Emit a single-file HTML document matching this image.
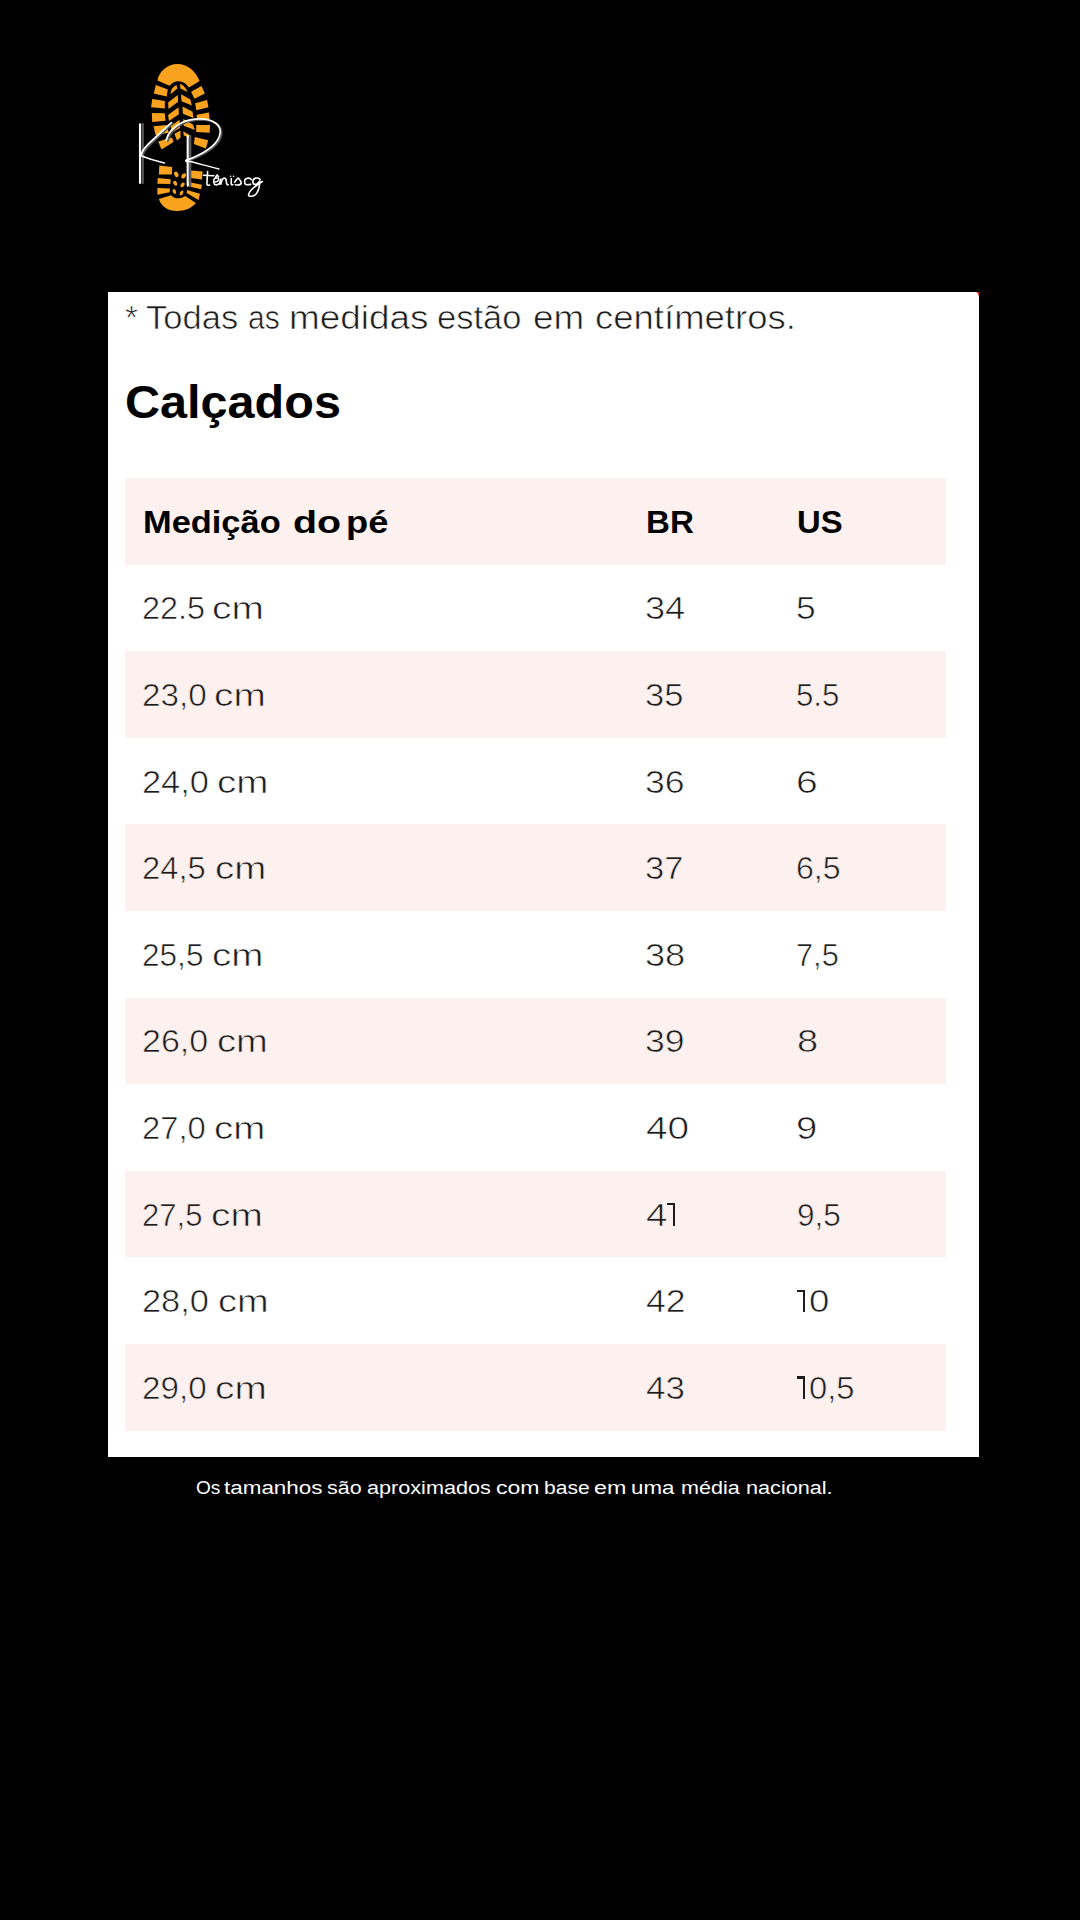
<!DOCTYPE html>
<html>
<head>
<meta charset="utf-8">
<style>
html,body{margin:0;padding:0}
body{width:1080px;height:1920px;background:#000;position:relative;overflow:hidden;font-family:"Liberation Sans",sans-serif}
.t{position:absolute;white-space:nowrap;line-height:1;transform-origin:0 0}
#card{position:absolute;left:108px;top:292px;width:871px;height:1165px;background:#fff;border-top-right-radius:3.5px 6px}
.p{position:absolute;left:125px;width:821px;background:#fcf1ee}
</style>
</head>
<body>
<svg style="position:absolute;left:130px;top:55px" width="140" height="165" viewBox="130 55 140 165">
<g fill="#f9a21d">
<path d="M157.4,80.5 C159,71 168,64 177.5,64 C187,64 196,71 199.6,81 L189,87.6 C186.5,83.5 183,81.2 178.5,81.2 C174,81.2 171.5,83.5 169.6,85.8 Z"/>
<polygon points="155.9,85 167.8,89.5 166.7,96.5 153.7,93.6"/>
<polygon points="152.2,99.1 164.8,101 164.8,108.4 151.1,107.3"/>
<polygon points="151.8,112.9 164.7,113.3 165.6,120.7 152.2,122.1"/>
<polygon points="153.6,126.3 166.6,124.9 168.9,132.8 155.5,135.1"/>
<polygon points="158.2,141.6 172.1,137.4 173.5,142 161.5,149.4"/>
<polygon points="159.3,165.6 172.2,167 171.9,174.4 158.9,174.4"/>
<polygon points="157.8,178.1 170.7,179.3 170.4,184.1 157.4,183.7"/>
<polygon points="157.4,188.1 170,188.5 169.6,192.2 157.4,194.8"/>
<polygon points="191.1,91.7 201.5,86.1 204.8,93.6 194.4,98.7"/>
<polygon points="195.2,103.2 207,99.9 208.5,107.3 196.3,110.2"/>
<polygon points="196.7,114.7 208.9,112.6 209.6,119.2 197.1,120.9"/>
<polygon points="196.2,124.9 210.1,124.9 209.6,132.8 196.2,131.9"/>
<polygon points="194.8,137 208.2,140.2 205.9,148.5 193.9,143.9"/>
<polygon points="191.1,170.4 202.6,171.5 201.9,179.6 190.4,178.1"/>
<polygon points="188.5,181.9 201.9,184.8 201.1,189.3 188.1,186.3"/>
<polygon points="187,190 200,193.7 198.5,200 186.7,193"/>
<path d="M158.9,198.9 L171.1,195.2 C173.5,197.5 175.5,198.3 177.8,198.3 C180.5,198.3 183,197.3 185.2,195.9 L195.9,203 C192,208 185,211 177,211 C168,211 161,206 158.9,198.9 Z"/>
<path d="M170.6,94.3 C170.5,90 173,86.5 176.5,85 L177.3,88.5 Z"/>
<polygon points="168.1,102.4 177.8,95 178.1,101.7 168.5,109.1"/>
<polygon points="168.1,115 178.5,107.3 178.9,114.3 168.9,121"/>
<polygon points="170.7,126.3 179.5,119.8 180,128.1 171.7,132.8"/>
<polygon points="174.4,133.7 180.5,130.5 180.5,137.4 177,140.6"/>
<path d="M180,83.9 C183,84.5 186,88 187.6,92.1 L180.4,88.4 Z"/>
<polygon points="181.1,94.3 190.4,99.5 191.9,105.4 181.5,101.3"/>
<polygon points="182.5,106.5 192.5,111.8 193.5,118.1 182.9,113.7"/>
<polygon points="183.2,118.9 193,124.4 194.8,130 183.7,125.8"/>
<polygon points="183.3,131.3 190.8,135.9 190.4,138 183.7,135.6"/>
<ellipse cx="176.3" cy="174.4" rx="2" ry="3" transform="rotate(-25 176.3 174.4)"/>
<ellipse cx="175.2" cy="183.3" rx="1.8" ry="2.6" transform="rotate(-35 175.2 183.3)"/>
<ellipse cx="174.4" cy="191.5" rx="1.6" ry="2.6" transform="rotate(-25 174.4 191.5)"/>
<ellipse cx="183.7" cy="175.9" rx="2" ry="2.8" transform="rotate(35 183.7 175.9)"/>
<ellipse cx="182.6" cy="184.8" rx="1.8" ry="2.6" transform="rotate(40 182.6 184.8)"/>
<ellipse cx="181.5" cy="193" rx="1.6" ry="2.6" transform="rotate(30 181.5 193)"/>
</g>
<g fill="none" stroke-linecap="round">
<g stroke="#5a5a5a" stroke-width="2.3">
<path d="M142.7,124.2 L142.7,183"/>
<path d="M190.2,136 L190.2,186"/>
</g>
<g stroke="#5a5a5a" stroke-width="1.7" transform="translate(1.6,0.9)">
<path d="M141.2,154.5 C142.5,150 146,146 151,141.5 L171.4,122.6"/>
<path d="M166.1,140.4 C168,133 173,127 182,122.5 C192,118 208,117 216.1,123.5 C221,127.5 221.5,134 217,141 C211,150 197,156 186,160.6"/>
</g>
<g stroke="#ffffff" stroke-width="2.1">
<path d="M140,124.3 L140,183"/>
<path d="M187.7,135.8 L187.7,185.8"/>
</g>
<g stroke="#ffffff" stroke-width="1.8">
<path d="M141.2,154.5 C142.5,150 146,146 151,141.5 L171.4,122.6"/>
<path d="M166.1,140.4 C168,133 173,127 182,122.5 C192,118 208,117 216.1,123.5 C221,127.5 221.5,134 217,141 C211,150 197,156 186,160.6"/>
</g>
<g stroke="#ffffff" stroke-width="1.5">
<path d="M141,155.7 C148,158.5 156,161 164.4,163.1"/>
<path d="M186,160.6 C196,163 207,166 218.9,168.9"/>
</g>
<g fill="#fff"><circle cx="186.8" cy="160.8" r="1.6"/></g>
<g stroke="#ffffff" stroke-width="1.6">
<path d="M207.6,171.5 C207.4,176 207,181 206.9,184.3 C207.2,185.4 208.3,185.5 209.6,185"/>
<path d="M203.5,175.2 L213.9,175.8"/>
<path d="M213.6,182.2 C215.5,182 218.8,181 218.7,179.6 C218.5,177.8 215.8,177.3 214.4,178.8 C213.2,180.3 213.3,184.5 215.7,184.8 C217,185 218.3,184.5 219.4,183.6"/>
<path d="M215.8,176.8 L217.2,175.1 L218.6,176.8"/>
<path d="M219.4,183.6 C220.2,181.5 220.6,179.5 220.6,178.5 L220.6,184.8 C221.5,181 222.5,178.3 224,178.1 C225.8,178 226.2,179.5 226.3,181 C226.4,183 226.2,184.8 228.3,184.8"/>
<path d="M231.3,178.5 L231.2,184.2 C231.3,184.9 232,185 232.8,184.6"/>
<path d="M234.6,182.4 C235.8,180.5 237,178.6 238.3,178.1 C239.5,179.5 241.5,181 241.2,183 C240.8,185 238.5,185.3 235.4,184.8"/>
<path d="M251.3,179.6 C250.5,178.3 249.4,178 248.3,178.1 C246.2,178.3 244.6,179.8 244.6,181.5 C244.6,183.5 245.3,184.8 247,184.8 C248.5,184.8 249.8,184.6 250.6,184.4"/>
<path d="M260.2,179.3 C258.8,178.2 257,178 255.7,178.1 C253.8,178.5 252.8,180 252.8,181.5 C252.8,183.3 253.8,184.4 255,184.4 C257,184.4 258.6,183 259.8,180.5 C259.8,183 259.5,186 258.7,188.9 C257.5,192.5 255,195.6 252.8,196 C250,196.5 248.3,196.5 248.5,194.8 C249,191.5 255,186 262.4,181.5"/>
</g>
<g fill="#fff"><circle cx="230.6" cy="176.3" r="0.8"/><circle cx="233.5" cy="176.3" r="0.8"/></g>
</g>
</svg>
<div style="position:absolute;left:974px;top:292px;width:5px;height:7px;background:#f21"></div>
<div id="card"></div>
<div class="p" style="top:478.0px;height:86.6px"></div>
<div class="p" style="top:651.2px;height:86.6px"></div>
<div class="p" style="top:824.4px;height:86.6px"></div>
<div class="p" style="top:997.6px;height:86.6px"></div>
<div class="p" style="top:1170.8px;height:86.6px"></div>
<div class="p" style="top:1344.0px;height:86.6px"></div>
<div class="t" style="left:124.59px;top:301.37px;font-size:33px;font-weight:normal;color:#1c1c1c;transform:scaleX(1.0091);-webkit-text-stroke:0.6px #fff">*</div>
<div class="t" style="left:145.65px;top:301.37px;font-size:33px;font-weight:normal;color:#1c1c1c;transform:scaleX(1.0465);-webkit-text-stroke:0.6px #fff">Todas</div>
<div class="t" style="left:247.99px;top:301.37px;font-size:33px;font-weight:normal;color:#1c1c1c;transform:scaleX(0.9091);-webkit-text-stroke:0.6px #fff">as</div>
<div class="t" style="left:289.07px;top:301.37px;font-size:33px;font-weight:normal;color:#1c1c1c;transform:scaleX(1.1172);-webkit-text-stroke:0.6px #fff">medidas</div>
<div class="t" style="left:437.46px;top:301.37px;font-size:33px;font-weight:normal;color:#1c1c1c;transform:scaleX(1.0449);-webkit-text-stroke:0.6px #fff">estão</div>
<div class="t" style="left:533.08px;top:301.37px;font-size:33px;font-weight:normal;color:#1c1c1c;transform:scaleX(1.1163);-webkit-text-stroke:0.6px #fff">em</div>
<div class="t" style="left:594.99px;top:301.37px;font-size:33px;font-weight:normal;color:#1c1c1c;transform:scaleX(1.1062);-webkit-text-stroke:0.6px #fff">centímetros.</div>
<div class="t" style="left:125.09px;top:379.36px;font-size:46px;font-weight:bold;color:#000;transform:scaleX(1.0557)">Calçados</div>
<div class="t" style="left:142.88px;top:506.66px;font-size:31px;font-weight:bold;color:#000;transform:scaleX(1.1099)">Medição</div>
<div class="t" style="left:292.63px;top:506.66px;font-size:31px;font-weight:bold;color:#000;transform:scaleX(1.2694)">do</div>
<div class="t" style="left:345.66px;top:506.66px;font-size:31px;font-weight:bold;color:#000;transform:scaleX(1.1697)">pé</div>
<div class="t" style="left:645.66px;top:506.66px;font-size:31px;font-weight:bold;color:#000;transform:scaleX(1.0690)">BR</div>
<div class="t" style="left:797.18px;top:506.66px;font-size:31px;font-weight:bold;color:#000;transform:scaleX(1.0575)">US</div>
<div class="t" style="left:142.18px;top:592.41px;font-size:32px;font-weight:normal;color:#1c1c1c;transform:scaleX(1.0119);-webkit-text-stroke:0.6px #fff">22.5</div>
<div class="t" style="left:212.28px;top:592.41px;font-size:32px;font-weight:normal;color:#1c1c1c;transform:scaleX(1.2150);-webkit-text-stroke:0.6px #fff">cm</div>
<div class="t" style="left:644.87px;top:592.41px;font-size:32px;font-weight:normal;color:#1c1c1c;transform:scaleX(1.1294);-webkit-text-stroke:0.6px #fff">34</div>
<div class="t" style="left:795.59px;top:592.41px;font-size:32px;font-weight:normal;color:#1c1c1c;transform:scaleX(1.1067);-webkit-text-stroke:0.6px #fff">5</div>
<div class="t" style="left:142.13px;top:679.01px;font-size:32px;font-weight:normal;color:#1c1c1c;transform:scaleX(1.0373);-webkit-text-stroke:0.6px #fcf1ee">23,0</div>
<div class="t" style="left:214.49px;top:679.01px;font-size:32px;font-weight:normal;color:#1c1c1c;transform:scaleX(1.2125);-webkit-text-stroke:0.6px #fcf1ee">cm</div>
<div class="t" style="left:645.02px;top:679.01px;font-size:32px;font-weight:normal;color:#1c1c1c;transform:scaleX(1.0788);-webkit-text-stroke:0.6px #fcf1ee">35</div>
<div class="t" style="left:796.35px;top:679.01px;font-size:32px;font-weight:normal;color:#1c1c1c;transform:scaleX(0.9756);-webkit-text-stroke:0.6px #fcf1ee">5.5</div>
<div class="t" style="left:142.05px;top:765.61px;font-size:32px;font-weight:normal;color:#1c1c1c;transform:scaleX(1.0746);-webkit-text-stroke:0.6px #fff">24,0</div>
<div class="t" style="left:217.49px;top:765.61px;font-size:32px;font-weight:normal;color:#1c1c1c;transform:scaleX(1.2050);-webkit-text-stroke:0.6px #fff">cm</div>
<div class="t" style="left:644.99px;top:765.61px;font-size:32px;font-weight:normal;color:#1c1c1c;transform:scaleX(1.1121);-webkit-text-stroke:0.6px #fff">36</div>
<div class="t" style="left:795.86px;top:765.61px;font-size:32px;font-weight:normal;color:#1c1c1c;transform:scaleX(1.2214);-webkit-text-stroke:0.6px #fff">6</div>
<div class="t" style="left:142.15px;top:852.21px;font-size:32px;font-weight:normal;color:#1c1c1c;transform:scaleX(1.0237);-webkit-text-stroke:0.6px #fcf1ee">24,5</div>
<div class="t" style="left:215.00px;top:852.21px;font-size:32px;font-weight:normal;color:#1c1c1c;transform:scaleX(1.2000);-webkit-text-stroke:0.6px #fcf1ee">cm</div>
<div class="t" style="left:645.02px;top:852.21px;font-size:32px;font-weight:normal;color:#1c1c1c;transform:scaleX(1.0788);-webkit-text-stroke:0.6px #fcf1ee">37</div>
<div class="t" style="left:796.30px;top:852.21px;font-size:32px;font-weight:normal;color:#1c1c1c;transform:scaleX(1.0024);-webkit-text-stroke:0.6px #fcf1ee">6,5</div>
<div class="t" style="left:142.23px;top:938.81px;font-size:32px;font-weight:normal;color:#1c1c1c;transform:scaleX(0.9864);-webkit-text-stroke:0.6px #fff">25,5</div>
<div class="t" style="left:212.29px;top:938.81px;font-size:32px;font-weight:normal;color:#1c1c1c;transform:scaleX(1.2050);-webkit-text-stroke:0.6px #fff">cm</div>
<div class="t" style="left:644.97px;top:938.81px;font-size:32px;font-weight:normal;color:#1c1c1c;transform:scaleX(1.1303);-webkit-text-stroke:0.6px #fff">38</div>
<div class="t" style="left:796.38px;top:938.81px;font-size:32px;font-weight:normal;color:#1c1c1c;transform:scaleX(0.9610);-webkit-text-stroke:0.6px #fff">7,5</div>
<div class="t" style="left:142.07px;top:1025.41px;font-size:32px;font-weight:normal;color:#1c1c1c;transform:scaleX(1.0627);-webkit-text-stroke:0.6px #fcf1ee">26,0</div>
<div class="t" style="left:216.81px;top:1025.41px;font-size:32px;font-weight:normal;color:#1c1c1c;transform:scaleX(1.1925);-webkit-text-stroke:0.6px #fcf1ee">cm</div>
<div class="t" style="left:644.99px;top:1025.41px;font-size:32px;font-weight:normal;color:#1c1c1c;transform:scaleX(1.1121);-webkit-text-stroke:0.6px #fcf1ee">39</div>
<div class="t" style="left:797.11px;top:1025.41px;font-size:32px;font-weight:normal;color:#1c1c1c;transform:scaleX(1.1867);-webkit-text-stroke:0.6px #fcf1ee">8</div>
<div class="t" style="left:142.15px;top:1112.01px;font-size:32px;font-weight:normal;color:#1c1c1c;transform:scaleX(1.0237);-webkit-text-stroke:0.6px #fff">27,0</div>
<div class="t" style="left:213.80px;top:1112.01px;font-size:32px;font-weight:normal;color:#1c1c1c;transform:scaleX(1.2025);-webkit-text-stroke:0.6px #fff">cm</div>
<div class="t" style="left:645.99px;top:1112.01px;font-size:32px;font-weight:normal;color:#1c1c1c;transform:scaleX(1.2121);-webkit-text-stroke:0.6px #fff">40</div>
<div class="t" style="left:795.91px;top:1112.01px;font-size:32px;font-weight:normal;color:#1c1c1c;transform:scaleX(1.1929);-webkit-text-stroke:0.6px #fff">9</div>
<div class="t" style="left:142.26px;top:1198.61px;font-size:32px;font-weight:normal;color:#1c1c1c;transform:scaleX(0.9695);-webkit-text-stroke:0.6px #fcf1ee">27,5</div>
<div class="t" style="left:210.78px;top:1198.61px;font-size:32px;font-weight:normal;color:#1c1c1c;transform:scaleX(1.2150);-webkit-text-stroke:0.6px #fcf1ee">cm</div>
<div class="t" style="left:645.70px;top:1198.61px;font-size:32px;font-weight:normal;color:#1c1c1c;transform:scaleX(1.2000);-webkit-text-stroke:0.6px #fcf1ee">4</div>
<div style="position:absolute;left:672.60px;top:1203.10px;width:2.4px;height:22.6px;background:#1c1c1c"></div>
<div style="position:absolute;left:667.00px;top:1203.10px;width:8.00px;height:2.3px;background:#1c1c1c"></div>
<div class="t" style="left:797.03px;top:1198.61px;font-size:32px;font-weight:normal;color:#1c1c1c;transform:scaleX(0.9854);-webkit-text-stroke:0.6px #fcf1ee">9,5</div>
<div class="t" style="left:142.05px;top:1285.21px;font-size:32px;font-weight:normal;color:#1c1c1c;transform:scaleX(1.0746);-webkit-text-stroke:0.6px #fff">28,0</div>
<div class="t" style="left:217.51px;top:1285.21px;font-size:32px;font-weight:normal;color:#1c1c1c;transform:scaleX(1.1850);-webkit-text-stroke:0.6px #fff">cm</div>
<div class="t" style="left:646.09px;top:1285.21px;font-size:32px;font-weight:normal;color:#1c1c1c;transform:scaleX(1.1121);-webkit-text-stroke:0.6px #fff">42</div>
<div style="position:absolute;left:802.80px;top:1289.70px;width:2.4px;height:22.6px;background:#1c1c1c"></div>
<div style="position:absolute;left:797.30px;top:1289.70px;width:7.90px;height:2.3px;background:#1c1c1c"></div>
<div class="t" style="left:809.16px;top:1285.21px;font-size:32px;font-weight:normal;color:#1c1c1c;transform:scaleX(1.1438);-webkit-text-stroke:0.6px #fff">0</div>
<div class="t" style="left:142.13px;top:1371.81px;font-size:32px;font-weight:normal;color:#1c1c1c;transform:scaleX(1.0373);-webkit-text-stroke:0.6px #fcf1ee">29,0</div>
<div class="t" style="left:215.29px;top:1371.81px;font-size:32px;font-weight:normal;color:#1c1c1c;transform:scaleX(1.2125);-webkit-text-stroke:0.6px #fcf1ee">cm</div>
<div class="t" style="left:646.21px;top:1371.81px;font-size:32px;font-weight:normal;color:#1c1c1c;transform:scaleX(1.0909);-webkit-text-stroke:0.6px #fcf1ee">43</div>
<div style="position:absolute;left:802.80px;top:1376.30px;width:2.4px;height:22.6px;background:#1c1c1c"></div>
<div style="position:absolute;left:797.30px;top:1376.30px;width:7.90px;height:2.3px;background:#1c1c1c"></div>
<div class="t" style="left:809.28px;top:1371.81px;font-size:32px;font-weight:normal;color:#1c1c1c;transform:scaleX(1.0238);-webkit-text-stroke:0.6px #fcf1ee">0,5</div>
<div class="t" style="left:196.49px;top:1478.99px;font-size:18.8px;font-weight:normal;color:#fff;transform:scaleX(1.0136)">Os</div>
<div class="t" style="left:224.10px;top:1478.99px;font-size:18.8px;font-weight:normal;color:#fff;transform:scaleX(1.1939)">tamanhos</div>
<div class="t" style="left:327.26px;top:1478.99px;font-size:18.8px;font-weight:normal;color:#fff;transform:scaleX(1.1429)">são</div>
<div class="t" style="left:366.65px;top:1478.99px;font-size:18.8px;font-weight:normal;color:#fff;transform:scaleX(1.1519)">aproximados</div>
<div class="t" style="left:496.07px;top:1478.99px;font-size:18.8px;font-weight:normal;color:#fff;transform:scaleX(1.2273)">com</div>
<div class="t" style="left:544.08px;top:1478.99px;font-size:18.8px;font-weight:normal;color:#fff;transform:scaleX(1.1205)">base</div>
<div class="t" style="left:594.06px;top:1478.99px;font-size:18.8px;font-weight:normal;color:#fff;transform:scaleX(1.2375)">em</div>
<div class="t" style="left:630.51px;top:1478.99px;font-size:18.8px;font-weight:normal;color:#fff;transform:scaleX(1.1857)">uma</div>
<div class="t" style="left:680.65px;top:1478.99px;font-size:18.8px;font-weight:normal;color:#fff;transform:scaleX(1.1480)">média</div>
<div class="t" style="left:745.55px;top:1478.99px;font-size:18.8px;font-weight:normal;color:#fff;transform:scaleX(1.1521)">nacional.</div>
</body>
</html>
